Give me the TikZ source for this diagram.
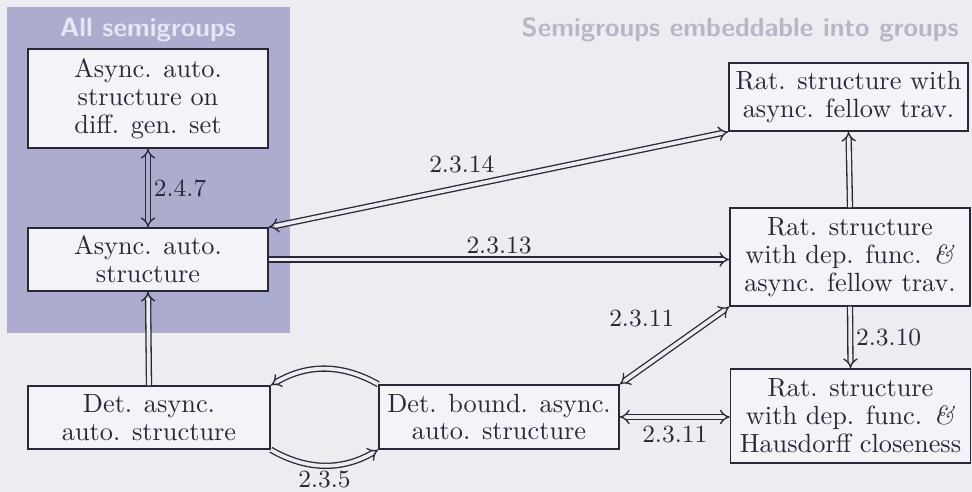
\documentclass[tikz,border=0pt]{standalone}
\usetikzlibrary{arrows.meta}
\definecolor{pagebg}{RGB}{236,236,241}
\definecolor{regionbg}{RGB}{172,172,207}
\definecolor{boxbg}{RGB}{244,244,248}
\definecolor{ink}{RGB}{40,40,55}
\definecolor{headlight}{RGB}{230,230,244}
\definecolor{headgray}{RGB}{182,182,198}
\begin{document}
\begin{tikzpicture}[x=0.38pt,y=-0.38pt,
  box/.style={draw=ink, fill=boxbg, line width=0.6pt, inner sep=0pt, align=center,
    minimum width=91.2pt, font=\fontsize{10}{10.6}\selectfont, text=ink},
  imp/.style={draw=ink, line width=0.5pt, double=pagebg, double distance=1.4pt, -{Implies}},
  impboth/.style={imp, {Implies}-{Implies}},
  lbl/.style={font=\fontsize{9.4}{10}\selectfont, text=ink, inner sep=2pt},
  head/.style={font=\sffamily\bfseries\fontsize{10}{12}\selectfont}]
  % page and the "all semigroups" region
  \fill[pagebg] (0,0) rectangle (972,492);
  \useasboundingbox (0,0) rectangle (972,492);
  \fill[regionbg] (7,7) rectangle (290,333);
  \node[head, text=headlight] (hall) at (148,30) {All semigroups};
  \node[head, text=headgray, anchor=east] (hemb) at (968,30) {Semigroups embeddable into groups};

  % boxes
  \node[box, minimum height=37.6pt] (A1) at (148,98.5) {Async. auto.\\ structure on\\ diff. gen. set};
  \node[box, minimum height=23.9pt] (A2) at (148,259.5) {Async. auto.\\ structure};
  \node[box, minimum width=92pt, minimum height=23.9pt] (D1) at (149,417.5) {Det. async.\\ auto. structure};
  \node[box, minimum height=24.3pt] (D2) at (499,417) {Det. bound. async.\\ auto. structure};
  \node[box, minimum width=90.8pt, minimum height=25.8pt] (R1) at (848.5,97) {Rat. structure with\\ async. fellow trav.};
  \node[box, minimum height=37.2pt] (R2) at (850,257) {Rat. structure\\ with dep. func. \textit{\&}\\ async. fellow trav.};
  \node[box, minimum height=35.7pt] (R3) at (850.5,416) {Rat. structure\\ with dep. func. \textit{\&}\\ Hausdorff closeness};

  % implications
  \draw[impboth, double=regionbg] (A1) -- (A2) node[midway, right, lbl] {2.4.7};
  \draw[imp] (D1.north) -- (A2.south);
  \draw[impboth] (A2.north east) -- (R1.south west) node[pos=0.42, above=3pt, lbl] {2.3.14};
  \draw[imp] (A2.east) -- (A2.east -| R2.west) node[midway, above, lbl] {2.3.13};
  \draw[imp] (R2.north) -- (R1.south);
  \draw[imp] (R2.south) -- (R3.north) node[midway, right, lbl] {2.3.10};
  \draw[impboth] (R2.south west) -- (D2.north east) node[pos=0.4, above left=2pt, lbl] {2.3.11};
  \draw[impboth] (D2.east) -- (D2.east -| R3.west) node[midway, below=1pt, lbl] {2.3.11};
  \draw[imp] (D2.north west) to[bend right=30] (D1.north east);
  \draw[imp] (D1.south east) to[bend right=30] node[midway, below=0pt, lbl] {2.3.5} (D2.south west);
\end{tikzpicture}
\end{document}
